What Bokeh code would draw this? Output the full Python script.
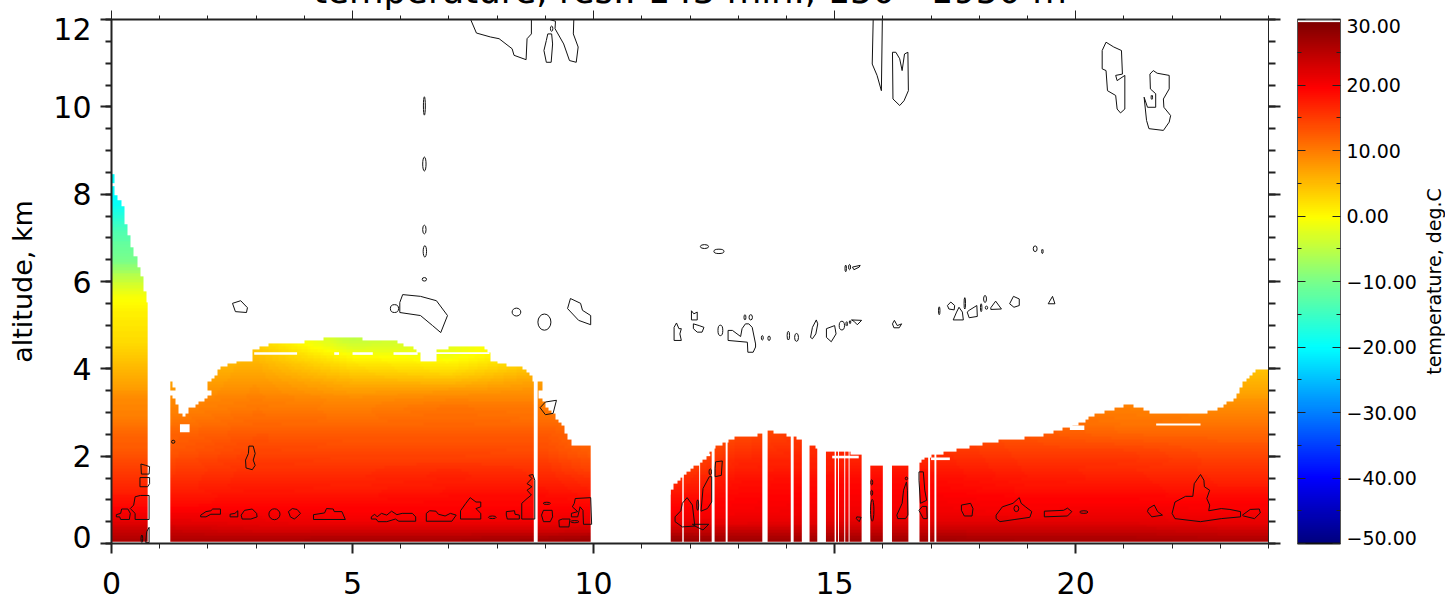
import numpy as np
from bokeh.embed import file_html
from bokeh.resources import INLINE
from bokeh.layouts import row
from bokeh.models import Range1d, LinearAxis, FixedTicker, Title, LinearColorMapper
from bokeh.plotting import figure

FONT = "DejaVu Sans"
title_text = "temperature, res.: 143 min., 150 - 1950 m"
ylabel_text = "altitude, km"
cblabel_text = "temperature, deg.C"
x_major = [0, 5, 10, 15, 20]
x_minor = [h for h in range(0, 25)]
y_major = [0, 2, 4, 6, 8, 10, 12]
y_minor = [k / 2 for k in range(0, 25)]
# the end labels sit a little inside the frame, as in the reference
y_label_at = [0.14, 2, 4, 6, 8, 10, 11.78]
y_label_text = ["0", "2", "4", "6", "8", "10", "12"]
cb_major = [-50, -40, -30, -20, -10, 0, 10, 20, 30]
cb_minor = [-45, -35, -25, -15, -5, 5, 15, 25]
cb_label_at = [-49.1, -40, -30, -20, -10, 0, 10, 20, 29]
cb_label_text = ["\u221250.00", "\u221240.00", "\u221230.00", "\u221220.00", "\u221210.00", "0.00", "10.00", "20.00", "30.00"]

# colour scale nodes
cb_nodes = [-50, -40, -30, -20, -10, 0, 10, 20, 30]
cb_red = [0, 0, 0, 0, 120, 255, 255, 255, 128]
cb_green = [0, 0, 128, 255, 255, 255, 128, 0, 0]
cb_blue = [128, 255, 255, 255, 140, 0, 0, 0, 0]

# temperature, deg C, in 0.2 km bands from 0.1 to 4.7 km; one list per 2 h column
col_hours = [1, 3, 5, 7, 9, 11, 13, 15, 17, 19, 21, 23]
band_km = [0.1 + 0.2 * i for i in range(43)]
temp_h01 = [26, 24, 22, 20.5, 19, 18, 17, 16, 15, 14, 13, 12.5, 12, 11, 10, 9.5, 9, 8, 7, 6, 5, 4, 3, 2.5]
temp_h03 = [26, 23, 21.5, 20.5, 19.5, 18.5, 18, 17, 16, 15.5, 14.5, 14, 13, 12, 11.5, 10.5, 10, 9, 8, 7, 6, 5, 4, 3]
temp_h05 = [26.5, 23, 21, 20, 19.5, 18.5, 17.5, 17, 16, 15, 14.5, 13.5, 13, 12, 11, 10, 9, 7.5, 6, 4, 2, 0, -3, -5]
temp_h07 = [26.5, 23, 21, 20, 19.5, 19, 18, 17.5, 16.5, 15, 14.5, 13.5, 13, 12, 11.5, 11, 9.5, 8, 5.5, 3, 1, -1, -2, -2]
temp_h09 = [27, 23, 21, 20.5, 19.5, 19, 18, 17, 16, 15, 14, 13.5, 13, 12, 11, 10.5, 9.5, 8.5, 7.5, 6, 4, 3, 3, 3]
temp_h11 = [28, 24, 21.5, 20, 19, 18, 16.5, 15, 13, 12, 11, 10, 10, 10, 10, 10, 10, 10, 10, 10, 10, 10, 10, 10]
temp_h13 = [27, 24, 21.5, 20.5, 20, 19.5, 19, 18.5, 17.5, 17, 16, 15, 14, 13, 12, 12, 12, 12, 12, 12, 12, 12, 12, 12]
temp_h15 = [27, 24, 22, 21, 20.5, 20, 19.5, 19, 18, 17.5, 17, 16.5, 16, 15, 15, 15, 15, 15, 15, 15, 15, 15, 15, 15]
temp_h17 = [27, 24, 22, 21, 20.5, 20, 19.5, 19, 18, 17, 16, 15, 14, 14, 14, 14, 14, 14, 14, 14, 14, 14, 14, 14]
temp_h19 = [26.5, 24, 22, 20.5, 20, 19.5, 18.5, 18, 17, 16, 15, 14, 13, 12, 11, 10, 10, 10, 10, 10, 10, 10, 10, 10]
temp_h21 = [26.5, 24, 22, 21, 20, 19.5, 18.5, 17.5, 16.5, 16, 15, 13.5, 12, 11, 10.5, 10, 9, 9, 9, 9, 9, 9, 9, 9]
temp_h23 = [26, 23.5, 21.5, 20.5, 20, 19, 18, 17, 16, 15, 14, 13, 12, 11, 10, 9, 8, 7, 6, 5, 4.5, 4, 4, 4]
# bands from 4.9 to 8.5 km, seen only in the first hour
temp_h01_upper = [2, 1.5, 1, 0, -1, -3, -5, -8, -10, -11, -12, -13, -15, -17, -19, -20, -20, -20, -20]

# top of the retrieved field
top_hours = [0, 0.06, 0.06, 0.01, 0.16, 0.3, 0.25, 0.43, 0.65, 0.75, 1.22, 1.31, 1.31, 1.22, 1.22, 1.35, 1.48, 1.6, 1.78,
             1.99, 2.1, 1.96, 1.99, 2.28, 2.49, 2.92, 2.96, 3.28, 3.85, 4.28, 4.85, 5.42, 5.85, 6.35, 6.39, 6.42, 6.71,
             6.71, 7.21, 7.64, 7.84, 7.84, 8.0, 8.28, 8.53, 8.76, 8.84, 8.92, 8.92, 8.84, 9.14, 9.35, 9.56, 9.94,
             11.6, 11.6, 11.7, 11.7, 11.84, 12.05, 12.23, 12.4, 12.52, 12.8, 12.97, 13.37, 13.63, 13.93, 14.28, 14.63,
             14.85, 15.55, 15.77, 16.2, 16.56, 16.77, 16.99, 17.08, 17.6, 17.95, 18.3, 18.74, 19.4, 19.88, 20.18, 20.49,
             21.1, 21.36, 21.67, 22.59, 23.0, 23.3, 23.5, 23.75, 24]
top_km = [8.5, 8.45, 8.3, 8.2, 7.85, 7.63, 7.47, 6.79, 6.02, 5.56, 3.7, 3.59, 3.51, 3.51, 3.4, 3.21, 2.86, 3.05, 3.21,
          3.32, 3.51, 3.55, 3.66, 4.01, 4.12, 4.21, 4.43, 4.54, 4.58, 4.66, 4.72, 4.64, 4.64, 4.43, 4.35, 4.2, 4.2,
          4.41, 4.52, 4.54, 4.39, 4.24, 4.12, 4.05, 4.01, 3.74, 3.7, 3.7, 3.55, 3.4, 2.98, 2.71, 2.27, 2.25,
          1.11, 1.21, 1.21, 1.34, 1.51, 1.72, 1.83, 2.05, 2.21, 2.33, 2.44, 2.46, 2.57, 2.5, 2.38, 2.18,
          2.12, 2.05, 1.79, 1.74, 1.74, 1.85, 2.02, 2.02, 2.15, 2.25, 2.33, 2.38, 2.48, 2.66, 2.81, 2.98,
          3.17, 3.09, 2.94, 2.94, 3.1, 3.3, 3.7, 3.97, 4.0]

# columns with no data
gap_start = [0.75, 8.76, 9.94, 11.84, 12.19, 12.45, 12.74, 13.5, 14.09, 14.32, 14.64, 15.0, 15.07, 15.2, 15.29, 15.56,
             16.0, 16.53, 16.94, 17.07]
gap_end = [1.22, 8.84, 11.6, 11.87, 12.21, 12.51, 12.78, 13.61, 14.15, 14.48, 14.82, 15.03, 15.09, 15.22, 15.31, 15.74,
           16.19, 16.76, 16.98, 17.11]

# thin white streaks: hour from, hour to, km from, km to
streak_t0 = [2.96, 4.62, 5.0, 5.85, 6.71, 1.42, 12.3, 14.95, 17.0, 19.88, 21.67]
streak_t1 = [3.85, 4.72, 5.42, 6.35, 7.84, 1.62, 12.42, 15.5, 17.39, 20.18, 22.59]
streak_z0 = [4.32, 4.32, 4.32, 4.32, 4.34, 2.55, 2.0, 1.95, 1.91, 2.6, 2.70]
streak_z1 = [4.38, 4.38, 4.38, 4.38, 4.38, 2.73, 2.05, 2.01, 1.97, 2.7, 2.75]

# cloud outlines as (hour, km)
low_clouds = [
    [(.10, .66), (.19, .69), (.21, .79), (.34, .79), (.39, .69), (.37, .55), (.19, .55), (.17, .61), (.10, .61)],
    [(.39, .80), (.46, .88), (.49, 1.07), (.60, 1.10), (.78, 1.10), (.78, .55), (.49, .55), (.49, .69)],
    [(.61, 1.82), (.71, 1.79), (.79, 1.76), (.78, 1.59), (.62, 1.59)],
    [(.59, 1.51), (.79, 1.51), (.79, 1.37), (.75, 1.30), (.59, 1.30)],
    [(.71, .02), (.73, .27), (.78, .37), (.78, .02)],
    [(2.85, 2.23), (2.94, 2.23), (2.98, 2.06), (2.94, 1.91), (2.98, 1.79), (2.92, 1.69), (2.79, 1.73), (2.78, 1.91), (2.84, 2.06)],
    [(1.85, .65), (1.96, .73), (2.06, .75), (2.1, .79), (2.26, .79), (2.26, .67), (2.06, .67), (1.96, .61), (1.85, .61)],
    [(2.46, .67), (2.56, .69), (2.62, .75), (2.62, .61), (2.46, .61)],
    [(2.69, .65), (2.76, .76), (2.92, .79), (3.01, .69), (3.02, .61), (2.89, .56), (2.71, .56)],
    [(3.67, .73), (3.75, .80), (3.85, .78), (3.92, .69), (3.85, .61), (3.79, .56), (3.71, .61)],
    [(4.19, .66), (4.42, .70), (4.46, .80), (4.6, .79), (4.62, .73), (4.78, .73), (4.85, .55), (4.19, .55)],
    [(5.39, .61), (5.46, .67), (5.51, .61), (5.6, .69), (5.71, .65), (5.81, .74), (5.92, .66), (6.03, .69), (6.24, .69),
     (6.31, .61), (6.31, .51), (5.96, .51), (5.89, .56), (5.71, .50), (5.53, .50), (5.49, .56), (5.39, .56)],
    [(6.53, .69), (6.6, .75), (6.73, .74), (6.78, .67), (6.92, .63), (7.03, .69), (7.15, .65), (7.06, .51), (6.53, .51)],
    [(7.24, .75), (7.35, .92), (7.44, 1.05), (7.56, .95), (7.66, .95), (7.66, .84), (7.56, .80), (7.66, .69), (7.66, .56), (7.24, .56)],
    [(8.19, .73), (8.36, .75), (8.37, .67), (8.46, .65), (8.46, .56), (8.21, .56), (8.19, .65)],
    [(8.51, .56), (8.51, .92), (8.62, 1.03), (8.71, 1.11), (8.62, 1.22), (8.72, 1.30), (8.62, 1.37), (8.72, 1.49), (8.66, 1.56),
     (8.74, 1.58), (8.78, 1.45), (8.78, .56)],
    [(8.96, .76), (9.14, .76), (9.15, .61), (9.1, .50), (8.96, .50), (8.92, .65)],
    [(9.28, .53), (9.35, .56), (9.51, .56), (9.49, .38), (9.29, .38)],
    [(9.62, 1.03), (9.94, 1.05), (9.96, .44), (9.79, .44), (9.78, .76), (9.72, .84), (9.67, .61), (9.54, .61), (9.54, .69),
     (9.67, .73), (9.56, .84), (9.6, .92)],
    [(8.89, 3.11), (9.0, 3.24), (9.23, 3.28), (9.16, 2.98), (9.0, 2.95)],
    [(11.69, .61), (11.81, .75), (11.84, .92), (11.94, 1.05), (12.05, .88), (12.1, .40), (11.84, .38), (11.69, .50)],
    [(12.05, .44), (12.39, .44), (12.27, .31), (12.1, .40)],
    [(12.23, .76), (12.27, 1.26), (12.4, 1.53), (12.45, 1.53), (12.45, .95), (12.36, .80), (12.23, .74)],
    [(12.53, 1.87), (12.67, 1.89), (12.65, 1.56), (12.52, 1.53), (12.52, 1.72)],
    [(15.46, .61), (15.55, .6), (15.51, .5), (15.45, .57)],
    [(16.29, .65), (16.4, .92), (16.43, 1.22), (16.49, 1.41), (16.51, 1.22), (16.52, .65), (16.47, .57), (16.31, .57)],
    [(16.75, 1.64), (16.84, 1.64), (16.87, 1.22), (16.91, .99), (16.78, .92), (16.75, 1.45)],
    [(16.75, .76), (16.82, .85), (16.91, .85), (16.92, .57), (16.84, .57)],
    [(17.63, .88), (17.82, .92), (17.87, .80), (17.85, .63), (17.69, .63), (17.63, .76)],
    [(18.35, .65), (18.48, .84), (18.7, .92), (18.83, 1.05), (18.87, .92), (18.96, .84), (19.09, .73), (19.05, .60), (18.74, .55),
     (18.43, .50), (18.35, .57)],
    [(19.35, .74), (19.75, .76), (19.83, .81), (19.92, .73), (19.83, .63), (19.35, .61)],
    [(21.51, .8), (21.63, .88), (21.7, .73), (21.8, .65), (21.58, .61), (21.49, .73)],
    [(22.0, .69), (22.06, .95), (22.28, 1.08), (22.43, 1.08), (22.46, 1.37), (22.59, 1.58), (22.66, 1.45), (22.67, 1.30), (22.78, 1.22),
     (22.72, 1.03), (22.78, .88), (22.76, .75), (23.02, .80), (23.2, .78), (23.42, .73), (23.42, .61), (23.02, .57), (22.59, .50), (22.06, .57)],
    [(23.46, .65), (23.62, .78), (23.81, .79), (23.83, .70), (23.71, .57), (23.48, .63)],
]
mid_clouds = [
    [(5.98, 5.52), (6.04, 5.7), (6.41, 5.66), (6.74, 5.56), (6.97, 5.22), (6.83, 4.83), (6.66, 4.99), (6.41, 5.22), (5.98, 5.29)],
    [(2.51, 5.5), (2.68, 5.56), (2.82, 5.4), (2.8, 5.29), (2.57, 5.31)],
    [(9.52, 5.61), (9.73, 5.5), (9.77, 5.34), (9.94, 5.22), (9.94, 5.01), (9.69, 5.11), (9.46, 5.38)],
    [(11.67, 4.95), (11.72, 5.05), (11.77, 4.92), (11.82, 4.92), (11.79, 4.8), (11.82, 4.65), (11.67, 4.65)],
    [(12.03, 5.33), (12.08, 5.26), (12.15, 5.3), (12.15, 5.12), (12.03, 5.12)],
    [(12.07, 5.03), (12.19, 4.99), (12.29, 4.95), (12.25, 4.84), (12.15, 4.84), (12.07, 4.92)],
    [(12.79, 4.88), (12.88, 4.88), (13.05, 4.74), (13.08, 4.92), (13.15, 5.03), (13.22, 5.03), (13.29, 4.95), (13.36, 4.57),
     (13.36, 4.5), (13.31, 4.38), (13.2, 4.38), (13.19, 4.61), (12.79, 4.65)],
    [(14.5, 4.72), (14.54, 4.95), (14.62, 5.12), (14.65, 5.03), (14.61, 4.8), (14.54, 4.69)],
    [(14.83, 4.92), (15.0, 4.99), (15.03, 4.8), (14.93, 4.62), (14.83, 4.72)],
    [(15.35, 5.12), (15.56, 5.11), (15.47, 5.01), (15.4, 5.09)],
    [(15.37, 6.33), (15.53, 6.37), (15.51, 6.33), (15.4, 6.27)],
    [(16.2, 5.03), (16.24, 5.11), (16.3, 4.99), (16.39, 5.03), (16.34, 4.94), (16.23, 4.94)],
    [(17.34, 5.45), (17.41, 5.53), (17.49, 5.45), (17.48, 5.35), (17.37, 5.37)],
    [(17.46, 5.12), (17.53, 5.3), (17.58, 5.41), (17.65, 5.3), (17.67, 5.12)],
    [(17.79, 5.34), (17.95, 5.45), (17.96, 5.2), (17.79, 5.17), (17.75, 5.3)],
    [(18.24, 5.4), (18.34, 5.55), (18.46, 5.37), (18.24, 5.36)],
    [(18.63, 5.49), (18.71, 5.66), (18.83, 5.6), (18.83, 5.45), (18.72, 5.41)],
    [(19.43, 5.49), (19.52, 5.66), (19.57, 5.49)],
]
high_clouds = [
    [(7.45, 12), (7.57, 11.69), (7.86, 11.6), (8.04, 11.56), (8.31, 11.33), (8.35, 11.18), (8.6, 11.08), (8.62, 11.56), (8.71, 11.67), (8.71, 12)],
    [(9.05, 11.67), (9.13, 11.67), (9.15, 11.44), (9.12, 11.02), (9.02, 11.02), (8.97, 11.29), (9.02, 11.52)],
    [(9.09, 12), (9.21, 11.96), (9.2, 11.79), (9.38, 11.44), (9.5, 11.06), (9.64, 11.02), (9.68, 11.37), (9.58, 11.67), (9.59, 12)],
    [(15.8, 12), (15.78, 10.98), (15.88, 10.72), (15.97, 10.37), (15.99, 12)],
    [(16.2, 11.25), (16.27, 11.25), (16.35, 11.1), (16.40, 10.83), (16.45, 11.21), (16.52, 11.25), (16.53, 10.37), (16.44, 10.14), (16.35, 10.03), (16.21, 10.18)],
    [(20.63, 11.48), (20.79, 11.37), (20.95, 11.29), (20.97, 10.75), (20.83, 10.72), (20.86, 10.6), (21.02, 10.72), (21.02, 9.95),
     (20.93, 9.86), (20.86, 9.95), (20.83, 10.26), (20.66, 10.37), (20.63, 10.83), (20.55, 10.87), (20.55, 11.29)],
    [(21.54, 10.75), (21.61, 10.83), (21.69, 10.77), (21.94, 10.72), (21.94, 10.41), (21.82, 10.18), (21.83, 9.99), (21.97, 9.8),
     (21.94, 9.65), (21.82, 9.46), (21.52, 9.5), (21.47, 9.69), (21.42, 10.22), (21.49, 9.99), (21.66, 9.99), (21.66, 10.3), (21.55, 10.41)],
]
# small closed cells: hour, km, width in hours, height in km
cell_t = [.63, 1.28, 3.38, 7.9, 9.03, 9.61, 12.16, 12.42, 15.77, 15.77, 15.78, 16.49, 18.77, 20.17, 9.13, 6.49, 6.49, 6.49, 6.5, 6.49,
          5.87, 8.4, 8.98, 12.63, 13.14, 13.26, 13.5, 13.64, 14.04, 14.21, 15.15, 15.25, 15.32, 12.3, 12.6, 15.23, 15.31, 17.17,
          17.7, 18.04, 18.12, 18.15, 19.16, 19.31, 21.58]
cell_z = [.11, 2.33, .67, .6, .92, .5, .88, 1.64, 1.4, 1.16, .76, 1.49, .8, .72, 11.79, 10.02, 8.69, 7.19, 6.69, 6.05,
          5.38, 5.3, 5.07, 4.88, 5.18, 5.18, 4.71, 4.7, 4.76, 4.72, 4.99, 5.03, 5.07, 6.8, 6.69, 6.3, 6.33, 5.33,
          5.5, 5.4, 5.6, 5.4, 6.75, 6.69, 10.22]
cell_w = [.035, .07, .23, .16, .15, .17, .04, .05, .04, .04, .07, .05, .1, .17, .05, .04, .07, .07, .07, .09,
          .17, .18, .27, .1, .04, .07, .04, .05, .05, .08, .11, .03, .03, .17, .21, .03, .04, .03,
          .03, .03, .06, .05, .08, .03, .03]
cell_h = [.17, .07, .25, .06, .05, .05, .24, .14, .12, .12, .5, .06, .14, .06, .12, .42, .32, .2, .26, .08,
          .18, .18, .37, .24, .12, .12, .1, .1, .2, .18, .2, .1, .07, .09, .10, .15, .12, .18,
          .26, .18, .16, .07, .13, .1, .1]

# --- colour scale
scale = np.linspace(-50, 30, 256)
palette = ["#%02x%02x%02x" % (int(r), int(g), int(b)) for r, g, b in
           zip(np.interp(scale, cb_nodes, cb_red), np.interp(scale, cb_nodes, cb_green), np.interp(scale, cb_nodes, cb_blue))]
mapper = LinearColorMapper(palette=palette, low=-50, high=30, nan_color="white")

# --- field: rows are altitude bands, columns 2 h blocks; rendered with bilinear shading on a display raster
columns = [temp_h01 + temp_h01_upper]
for c in [temp_h03, temp_h05, temp_h07, temp_h09, temp_h11, temp_h13, temp_h15, temp_h17, temp_h19, temp_h21, temp_h23]:
    columns.append(c + [c[-1]] * len(temp_h01_upper))
field = np.array(columns, dtype=float).T
raster_t = (np.arange(360) + 0.5) / 15
raster_z = 0.04 + (np.arange(129) + 0.5) / 15
by_z = np.array([np.interp(raster_z, band_km, field[:, j]) for j in range(field.shape[1])])
shaded = np.array([np.interp(raster_t, col_hours, by_z[:, i]) for i in range(by_z.shape[1])])

# blank the raster above the read top of the field (even-odd rule on the outline)
mask_t = np.array(top_hours + [24, 24.5, -0.5, -0.5, 0], dtype=float)
mask_z = np.array(top_km + [12, 12, 12, 8.5, 8.5], dtype=float)
tt, zz = np.meshgrid(raster_t, raster_z)
inside = np.zeros(tt.shape, dtype=bool)
for i in range(len(mask_t)):
    t0, z0, t1, z1 = mask_t[i - 1], mask_z[i - 1], mask_t[i], mask_z[i]
    if t0 != t1:
        lo, hi = min(t0, t1), max(t0, t1)
        crosses = (tt >= lo) & (tt < hi) & (zz > z0 + (tt - t0) * (z1 - z0) / (t1 - t0))
        inside ^= crosses
shaded[inside] = np.nan

# --- main figure
TOP_PAD = 60      # room for the title band, which runs off the top of the page as in the reference
PAGE_SHIFT = TOP_PAD - 19
p = figure(width=1290, height=557 + TOP_PAD, frame_width=1157, frame_height=524, output_backend="svg", toolbar_location=None,
           x_range=Range1d(0, 24), y_range=Range1d(0, 12), x_axis_type=None, y_axis_type=None,
           min_border_left=111, min_border_top=TOP_PAD, min_border_right=22, min_border_bottom=57,
           background_fill_color="white", border_fill_color="white", outline_line_color=None)
p.grid.visible = False


def base_axis(ticks, minor, **kw):
    a = LinearAxis(ticker=FixedTicker(ticks=ticks, minor_ticks=minor), axis_line_color="#222222",
                   major_tick_line_color="#222222", minor_tick_line_color="#222222", major_tick_in=0, minor_tick_in=0,
                   major_label_text_font=FONT, major_label_text_color="black", axis_label_text_font=FONT,
                   axis_label_text_font_style="normal", axis_label_text_color="black")
    a.update(**kw)
    return a


def quiet(ticks):
    return dict(major_label_text_font_size="1px", major_label_standoff=0, major_label_overrides={t: "" for t in ticks})


def label_axis(at, texts, **kw):
    return base_axis(at, [], axis_line_color=None, major_tick_line_color=None, minor_tick_line_color=None,
                     major_tick_out=0, minor_tick_out=0, major_label_overrides=dict(zip(at, texts)), **kw)


left = base_axis(y_major, y_minor, major_tick_out=11, minor_tick_out=6, axis_line_width=2, major_tick_line_width=2,
                 minor_tick_line_width=2, **quiet(y_major))
left_labels = label_axis(y_label_at, y_label_text, major_label_text_font_size="30px", major_label_standoff=9,
                         axis_label=ylabel_text, axis_label_text_font_size="27px", axis_label_standoff=12)
right = base_axis(y_major, y_minor, major_tick_out=12, minor_tick_out=7, axis_line_width=1, major_tick_line_width=2,
                  minor_tick_line_width=2, **quiet(y_major))
bottom = base_axis(x_major, x_minor, major_tick_out=10, minor_tick_out=5, axis_line_width=2, major_tick_line_width=2,
                   minor_tick_line_width=1, major_label_text_font_size="30px", major_label_standoff=18)
top = base_axis(x_major, x_minor, major_tick_out=9, minor_tick_out=4, axis_line_width=2, major_tick_line_width=1,
                minor_tick_line_width=1, **quiet(x_major))
p.add_layout(left, "left")
p.add_layout(left_labels, "left")
p.add_layout(right, "right")
p.add_layout(bottom, "below")
p.add_layout(top, "above")
p.add_layout(Title(text=title_text, align="center", text_font=FONT, text_font_size="35.5px", text_font_style="normal",
                   text_color="black", standoff=0, offset=0), "above")

p.image(image=[shaded], x=0, y=0.04, dw=24, dh=8.6, color_mapper=mapper)
p.quad(left=gap_start, right=gap_end, bottom=0, top=12, fill_color="white", line_color=None)
p.quad(left=streak_t0, right=streak_t1, bottom=streak_z0, top=streak_z1, fill_color="white", line_color=None)

outlines = low_clouds + mid_clouds + high_clouds
xs = [[pt[0] for pt in o] + [o[0][0]] for o in outlines]
ys = [[pt[1] for pt in o] + [o[0][1]] for o in outlines]
p.multi_line(xs, ys, line_color="#111111", line_width=1)
p.ellipse(x=cell_t, y=cell_z, width=cell_w, height=cell_h, fill_color=None, line_color="#111111", line_width=1)

# --- colour bar
cb = figure(width=125, height=557 + TOP_PAD, frame_width=43, frame_height=524, output_backend="svg", toolbar_location=None,
            x_range=Range1d(0, 1), y_range=Range1d(-50, 30), x_axis_type=None, y_axis_type=None,
            min_border_left=7, min_border_top=TOP_PAD, min_border_right=75, min_border_bottom=57,
            background_fill_color="white", border_fill_color="white", outline_line_color=None)
cb.grid.visible = False
cb.image(image=[scale.reshape(256, 1)], x=0, y=-50, dw=1, dh=79.6, color_mapper=mapper)
cb_left = base_axis(cb_major, cb_minor, major_tick_in=8, major_tick_out=0, minor_tick_in=4, minor_tick_out=0,
                    axis_line_color="#555555", **quiet(cb_major))
cb_right = base_axis(cb_major, cb_minor, major_tick_in=8, major_tick_out=0, minor_tick_in=4, minor_tick_out=0,
                     axis_line_color="#555555", **quiet(cb_major))
cb_right_labels = label_axis(cb_label_at, cb_label_text, major_label_text_font_size="19px", major_label_standoff=6)
cb_top = LinearAxis(ticker=FixedTicker(ticks=[]), axis_line_color="#444444", axis_line_width=2, major_tick_line_color=None,
                    minor_tick_line_color=None, major_label_text_font_size="1px", major_label_standoff=0)
cb_bottom = LinearAxis(ticker=FixedTicker(ticks=[]), axis_line_color="#111111", axis_line_width=2, major_tick_line_color=None,
                       minor_tick_line_color=None, major_label_text_font_size="1px", major_label_standoff=0)
cb.add_layout(cb_left, "left")
cb.add_layout(cb_right, "right")
cb.add_layout(cb_right_labels, "right")
cb.add_layout(cb_top, "above")
cb.add_layout(cb_bottom, "below")

# --- colour bar title, in a thin strip of its own so that it reads upward and is centred on the bar
side = figure(width=30, height=557 + TOP_PAD, frame_width=1, frame_height=524, output_backend="svg", toolbar_location=None,
              x_range=Range1d(0, 1), y_range=Range1d(-50, 30), x_axis_type=None, y_axis_type=None,
              min_border_left=29, min_border_top=TOP_PAD, min_border_right=0, min_border_bottom=57,
              background_fill_color="white", border_fill_color="white", outline_line_color=None)
side.grid.visible = False
side.add_layout(LinearAxis(ticker=FixedTicker(ticks=[]), axis_line_color=None, major_tick_line_color=None,
                           minor_tick_line_color=None, major_label_text_font_size="1px", major_label_standoff=0,
                           axis_label=cblabel_text, axis_label_text_font=FONT, axis_label_text_font_size="19px",
                           axis_label_text_font_style="normal", axis_label_text_color="black", axis_label_standoff=5),
                "left")

page = row(p, cb, side, spacing=0, styles={"margin-top": "-%dpx" % PAGE_SHIFT})
open("out.html", "w").write(file_html(page, INLINE))
